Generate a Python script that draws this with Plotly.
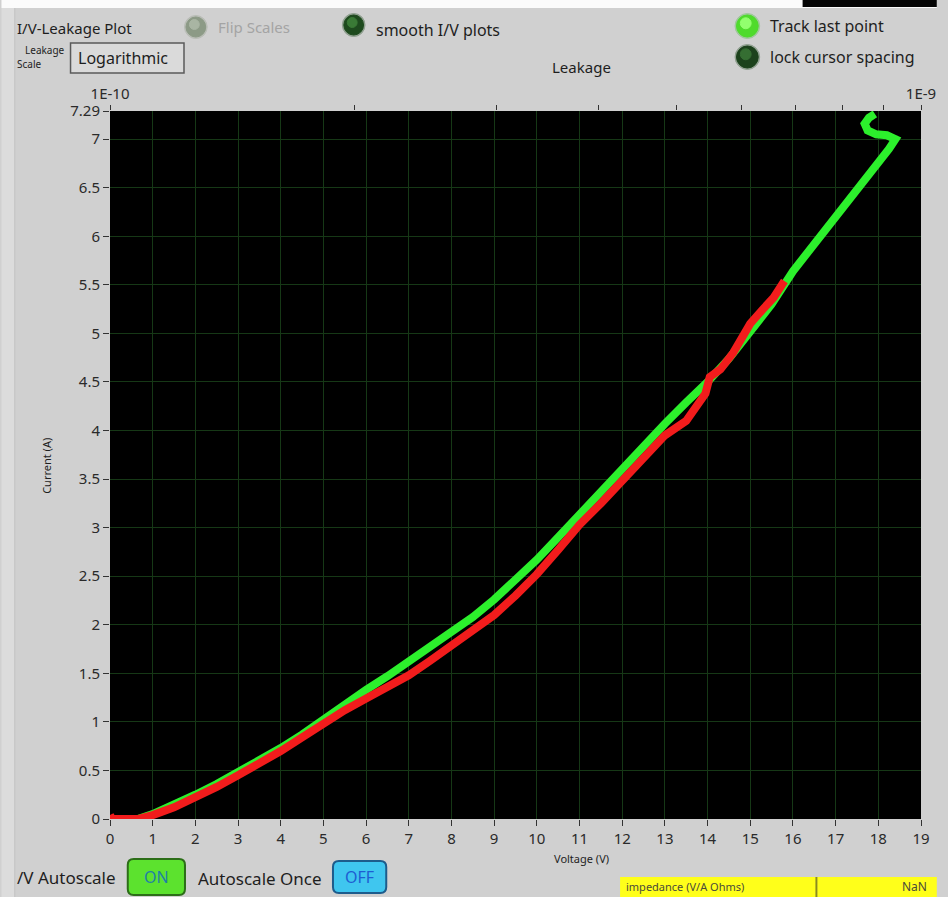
import plotly.graph_objects as go

# ---- data -------------------------------------------------------------
# run 1 (green): voltage sweep up, then the last few samples hooking back
green_v = [0.0, 0.3, 0.65, 1.0, 1.5, 2.0, 2.5, 3.0, 3.5, 4.0, 4.5, 5.0, 5.5, 6.0,
           6.5, 7.0, 7.5, 8.0, 8.5, 9.0, 9.5, 10.0, 10.5, 11.0, 11.5, 12.0, 12.5,
           13.0, 13.5, 14.0, 14.5, 15.0, 15.5, 16.0, 16.5, 17.0, 17.5, 18.0, 18.25,
           18.4, 18.2, 17.95, 17.75, 17.68, 17.78, 17.92]
green_i = [0.0, 0.0, 0.0, 0.05, 0.14, 0.25, 0.36, 0.48, 0.6, 0.73, 0.87, 1.03, 1.18, 1.33,
           1.47, 1.62, 1.77, 1.92, 2.08, 2.26, 2.46, 2.67, 2.9, 3.14, 3.38, 3.61, 3.84,
           4.07, 4.29, 4.5, 4.74, 5.02, 5.3, 5.64, 5.92, 6.19, 6.46, 6.74, 6.9,
           7.0, 7.04, 7.05, 7.09, 7.16, 7.22, 7.26]

# run 2 (red)
red_v = [0.0, 0.02, 0.05, 0.65, 1.0, 1.5, 2.0, 2.5, 3.0, 3.5, 4.0, 4.5, 5.0, 5.5, 6.0,
         6.5, 7.0, 7.5, 8.0, 8.5, 9.0, 9.5, 10.0, 10.5, 11.0, 11.5, 12.0, 12.5,
         13.0, 13.5, 13.8, 13.95, 14.05, 14.3, 14.6, 15.0, 15.3, 15.55, 15.8]
red_i = [0.04, 0.0, 0.0, 0.0, 0.04, 0.12, 0.22, 0.33, 0.45, 0.57, 0.7, 0.84, 0.99, 1.12, 1.24,
         1.36, 1.48, 1.63, 1.79, 1.93, 2.1, 2.3, 2.52, 2.77, 3.03, 3.25, 3.48, 3.71,
         3.95, 4.1, 4.3, 4.38, 4.55, 4.63, 4.8, 5.1, 5.25, 5.37, 5.54]

x_ticks = list(range(0, 20))
y_ticks = [0, 0.5, 1, 1.5, 2, 2.5, 3, 3.5, 4, 4.5, 5, 5.5, 6, 6.5, 7, 7.29]
y_tick_text = ["0", "0.5", "1", "1.5", "2", "2.5", "3", "3.5", "4", "4.5", "5",
               "5.5", "6", "6.5", "7", "7.29"]
leak_ticks = [1e-10, 2e-10, 3e-10, 4e-10, 5e-10, 6e-10, 7e-10, 8e-10, 9e-10, 1e-9]
leak_text = ["1E-10", "", "", "", "", "", "", "", "", "1E-9"]

# ---- page geometry ----------------------------------------------------
W, H = 948, 897
ML, MR, MT, MB = 110, 16, 111, 78
PW, PH = W - ML - MR, H - MT - MB
FONT = "Noto Sans"
PANEL = "#d0d0d0"


def px(x):
    return (x - ML) / PW


def py(y):
    return 1 - (y - MT) / PH


def rect(x0, y0, x1, y1, fill, line=None, lw=0):
    return dict(type="rect", xref="paper", yref="paper", layer="below",
                x0=px(x0), x1=px(x1), y0=py(y1), y1=py(y0),
                fillcolor=fill, line=dict(color=line or fill, width=lw))


def rrect(x0, y0, x1, y1, r, fill, line, lw):
    pts = [("M", x0 + r, y0), ("L", x1 - r, y0), ("Q", x1, y0, x1, y0 + r),
           ("L", x1, y1 - r), ("Q", x1, y1, x1 - r, y1), ("L", x0 + r, y1),
           ("Q", x0, y1, x0, y1 - r), ("L", x0, y0 + r), ("Q", x0, y0, x0 + r, y0)]
    d = ""
    for p in pts:
        cmd, *c = p
        coords = []
        for k in range(0, len(c), 2):
            coords.append(f"{px(c[k]):.5f},{py(c[k + 1]):.5f}")
        d += cmd + " ".join(coords) + " "
    d += "Z"
    return dict(type="path", xref="paper", yref="paper", path=d,
                fillcolor=fill, line=dict(color=line, width=lw))


def circle(cx, cy, r, fill, line=None):
    return dict(type="circle", xref="paper", yref="paper",
                x0=px(cx - r), x1=px(cx + r), y0=py(cy + r), y1=py(cy - r),
                fillcolor=fill, line=dict(color=line or fill, width=1))


def led(cx, cy, r, base, hi, edge):
    return [circle(cx, cy, r + 1.5, edge), circle(cx, cy, r, base),
            circle(cx - r * 0.15, cy - r * 0.25, r * 0.5, hi)]


def text(x, y, s, size, color="#1e1e1e", anchor="left", angle=0):
    return dict(x=px(x), y=py(y), xref="paper", yref="paper", text=s,
                showarrow=False, xanchor=anchor, yanchor="middle",
                textangle=angle, font=dict(family=FONT, size=size, color=color))


# ---- traces -----------------------------------------------------------
fig = go.Figure()
fig.add_trace(go.Scatter(x=green_v, y=green_i, mode="lines",
                         line=dict(color="#2cf02c", width=8), hoverinfo="x+y"))
fig.add_trace(go.Scatter(x=red_v, y=red_i, mode="lines",
                         line=dict(color="#f21c1c", width=8), hoverinfo="x+y"))
# carrier for the leakage (top) axis
fig.add_trace(go.Scatter(x=[1e-10, 1e-9], y=[0, 0], xaxis="x2", mode="markers",
                         marker=dict(opacity=0), hoverinfo="skip"))

# ---- panel decorations ------------------------------------------------
shapes = [
    rect(0, 0, W, 8, "#fbfbfb"),
    rect(812, 0, W, 7, "#050505"),
    rect(0, 8, 13, H, "#dcdcdc"),
    rect(13, 8, 14, H, "#c4c4c4"),
    rect(70, 43, 185, 73, "#dadada", "#5a5a5a", 1.5),
    rect(627, 877, 826, H, "#ffff1a"),
    rect(826, 877, W, H, "#ffff1a"),
    rect(825, 877, 827, H, "#8a8a20"),
    rrect(128, 859, 186, 895, 6, "#5ce22e", "#2c6e18", 2),
    rrect(336, 861, 390, 893, 6, "#3fc6ef", "#1d5c8c", 2),
]
shapes += led(197, 27, 10, "#8c9a86", "#a9b5a3", "#b9bdb6")
shapes += led(357, 25, 10, "#1e4a1e", "#3a7a36", "#90a090")
shapes += led(756, 26, 11, "#4fdb2c", "#92ff6e", "#9ec89a")
shapes += led(756, 57, 11, "#1c421c", "#356e32", "#90a090")

annotations = [
    text(14, 28, "I/V-Leakage Plot", 15),
    text(217, 27, "Flip Scales", 15, "#a4a4a4"),
    text(378, 30, "smooth I/V plots", 16),
    text(777, 26, "Track last point", 16),
    text(777, 57, "lock cursor spacing", 16),
    text(66, 50, "Leakage", 10, anchor="right"),
    text(14, 64, "Scale", 10),
    text(76, 58, "Logarithmic", 16),
    text(588, 67, "Leakage", 15, anchor="center"),
    text(46, 466, "Current (A)", 11, anchor="center", angle=-90),
    text(588, 858, "Voltage (V)", 11, anchor="center"),
    text(14, 877, "/V Autoscale", 17),
    text(157, 877, "ON", 16, "#1f80a6", anchor="center"),
    text(197, 878, "Autoscale Once", 17),
    text(363, 877, "OFF", 16, "#1e5ed2", anchor="center"),
    text(631, 887, "impedance (V/A Ohms)", 11, "#4a4a3a"),
    text(940, 887, "NaN", 12, "#4a4a3a", anchor="right"),
]

tick_font = dict(family=FONT, size=15, color="#2a2a2a")

fig.update_layout(
    width=W, height=H, autosize=False,
    margin=dict(l=ML, r=MR, t=MT, b=MB, pad=0),
    paper_bgcolor=PANEL, plot_bgcolor="#000000",
    showlegend=False,
    shapes=shapes, annotations=annotations,
    xaxis=dict(range=[0, 19], tickvals=x_ticks, ticks="outside", ticklen=6,
               tickcolor="#333333", tickfont=tick_font, showgrid=True,
               gridcolor="#163816", gridwidth=1, zeroline=False, showline=False,
               fixedrange=True),
    xaxis2=dict(type="log", range=[-10, -9], overlaying="x", side="top",
                anchor="y", tickvals=leak_ticks, ticktext=leak_text,
                ticks="outside", ticklen=5, tickcolor="#333333",
                tickfont=tick_font, showgrid=False, zeroline=False,
                showline=False, fixedrange=True),
    yaxis=dict(range=[0, 7.29], tickvals=y_ticks, ticktext=y_tick_text,
               ticks="outside", ticklen=6, tickcolor="#333333",
               tickfont=tick_font, showgrid=True, gridcolor="#163816",
               gridwidth=1, zeroline=False, showline=False, fixedrange=True),
)

fig.write_html("out.html", config={"displayModeBar": False})
